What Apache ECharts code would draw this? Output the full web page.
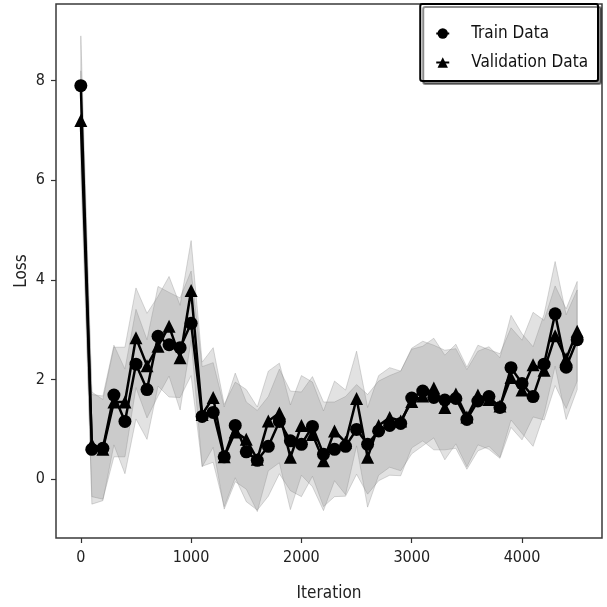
<!DOCTYPE html>
<html>
<head>
  <meta charset="UTF-8">
  <title>Loss</title>
  <script src="https://cdn.jsdelivr.net/npm/echarts@6/dist/echarts.min.js"></script>
  <style>
    html, body { margin: 0; padding: 0; background: #fff; }
    #main { width: 607px; height: 607px; }
  </style>
</head>
<body>
<div id="main"></div>
<script>
  // iterations 0..4500 every 100
  var iterations = [0, 100, 200, 300, 400, 500, 600, 700, 800, 900,
    1000, 1100, 1200, 1300, 1400, 1500, 1600, 1700, 1800, 1900,
    2000, 2100, 2200, 2300, 2400, 2500, 2600, 2700, 2800, 2900,
    3000, 3100, 3200, 3300, 3400, 3500, 3600, 3700, 3800, 3900,
    4000, 4100, 4200, 4300, 4400, 4500];

  var trainLoss = [7.9, 0.6, 0.62, 1.69, 1.16, 2.31, 1.8, 2.87, 2.7, 2.64,
    3.13, 1.26, 1.34, 0.45, 1.08, 0.55, 0.38, 0.66, 1.16, 0.77,
    0.7, 1.06, 0.5, 0.6, 0.66, 1.0, 0.7, 0.97, 1.08, 1.12,
    1.63, 1.77, 1.64, 1.59, 1.62, 1.2, 1.57, 1.66, 1.44, 2.24,
    1.92, 1.66, 2.31, 3.32, 2.25, 2.8];

  var valLoss = [7.2, 0.7, 0.6, 1.55, 1.55, 2.84, 2.28, 2.67, 3.07, 2.44,
    3.79, 1.3, 1.64, 0.45, 0.95, 0.8, 0.4, 1.17, 1.33, 0.44,
    1.08, 0.9, 0.37, 0.97, 0.74, 1.62, 0.44, 1.08, 1.24, 1.17,
    1.56, 1.67, 1.83, 1.44, 1.71, 1.25, 1.69, 1.6, 1.47, 2.04,
    1.79, 2.3, 2.19, 2.88, 2.42, 2.97];

  // spread shown by the shaded bands
  var trainStd = [1.0, 1.1, 1.05, 1.0, 1.05, 1.1, 1.0, 1.0, 1.05, 1.0,
    1.05, 1.0, 1.0, 1.0, 1.05, 1.0, 1.0, 1.0, 1.05, 1.0,
    1.05, 1.0, 1.05, 0.95, 1.0, 0.9, 1.0, 1.0, 1.0, 1.05,
    1.0, 1.0, 1.05, 1.0, 1.0, 1.0, 1.0, 1.0, 1.0, 1.05,
    1.0, 1.0, 1.0, 1.05, 1.05, 1.0];

  var valStd = [1.0, 1.05, 1.0, 1.1, 1.1, 1.0, 1.05, 1.0, 1.0, 1.05,
    1.0, 1.05, 1.0, 1.05, 1.0, 1.0, 1.05, 1.0, 1.0, 1.05,
    1.0, 1.05, 1.0, 1.0, 1.05, 0.95, 1.0, 1.0, 1.0, 1.0,
    1.05, 1.0, 1.0, 1.05, 1.0, 1.0, 1.0, 1.0, 1.05, 1.0,
    1.0, 1.05, 1.0, 1.0, 1.0, 1.0];

  var xTicks = [0, 1000, 2000, 3000, 4000];
  var yTicks = [0, 2, 4, 6, 8];

  var font = "'DejaVu Sans Condensed', 'DejaVu Sans', sans-serif";

  var pairs = function (ys) {
    return iterations.map(function (x, i) { return [x, ys[i]]; });
  };

  // mean +- std band drawn as one polygon through the axes
  var bandSeries = function (m, s) {
    return {
      type: 'custom',
      silent: true,
      z: 1,
      data: [0],
      renderItem: function (params, api) {
        var pts = [];
        for (var i = 0; i < iterations.length; i++) {
          pts.push(api.coord([iterations[i], m[i] + s[i]]));
        }
        for (var j = iterations.length - 1; j >= 0; j--) {
          pts.push(api.coord([iterations[j], m[j] - s[j]]));
        }
        return {
          type: 'polygon',
          shape: { points: pts },
          style: { fill: 'rgba(128,128,128,0.23)', stroke: 'rgba(128,128,128,0.3)', lineWidth: 1 }
        };
      }
    };
  };

  var option = {
    animation: false,
    backgroundColor: '#fff',
    grid: {
      left: 56, right: 5, top: 4, bottom: 65,
      show: true, borderColor: '#3a3a3a', borderWidth: 1.5
    },
    legend: {
      data: ['Train Data', 'Validation Data'],
      orient: 'vertical',
      right: 9,
      top: 4,
      padding: [21, 10, 10, 15],
      itemGap: 12,
      itemWidth: 13,
      itemHeight: 13,
      backgroundColor: '#fff',
      borderColor: '#000',
      borderWidth: 2,
      borderRadius: 2,
      shadowColor: 'rgba(0,0,0,0.45)',
      shadowOffsetX: 3,
      shadowOffsetY: 3,
      shadowBlur: 0,
      textStyle: { fontFamily: font, fontSize: 17, color: '#111', padding: [0, 0, 0, 17] }
    },
    xAxis: {
      type: 'value',
      min: -225,
      max: 4725,
      name: 'Iteration',
      nameLocation: 'middle',
      nameGap: 47,
      nameMoveOverlap: false,
      nameTextStyle: { fontFamily: font, fontSize: 17, color: '#222' },
      axisLine: { show: false, onZero: false },
      splitLine: { show: false },
      axisTick: { show: true, customValues: xTicks, length: 5, lineStyle: { color: '#333', width: 1.2 } },
      axisLabel: {
        customValues: xTicks, fontFamily: font, fontSize: 16, color: '#222', margin: 12,
        formatter: function (v) { return String(v); }
      }
    },
    yAxis: {
      type: 'value',
      min: -1.18,
      max: 9.54,
      name: 'Loss',
      nameLocation: 'middle',
      nameGap: 26,
      nameMoveOverlap: false,
      nameTextStyle: { fontFamily: font, fontSize: 17, color: '#222' },
      axisLine: { show: false, onZero: false },
      splitLine: { show: false },
      axisTick: { show: true, customValues: yTicks, length: 5, lineStyle: { color: '#333', width: 1.2 } },
      axisLabel: {
        customValues: yTicks, fontFamily: font, fontSize: 16, color: '#222', margin: 11,
        formatter: function (v) { return String(v); }
      }
    },
    series: [
      bandSeries(trainLoss, trainStd),
      bandSeries(valLoss, valStd),
      {
        name: 'Train Data',
        type: 'line',
        data: pairs(trainLoss),
        symbol: 'circle',
        symbolSize: 13,
        itemStyle: { color: '#000' },
        lineStyle: { color: '#000', width: 2.5 },
        z: 3
      }, {
        name: 'Validation Data',
        type: 'line',
        data: pairs(valLoss),
        symbol: 'triangle',
        symbolSize: 13,
        itemStyle: { color: '#000' },
        lineStyle: { color: '#000', width: 2.5 },
        z: 3
      }
    ]
  };

  echarts.init(document.getElementById('main')).setOption(option);
</script>
</body>
</html>
